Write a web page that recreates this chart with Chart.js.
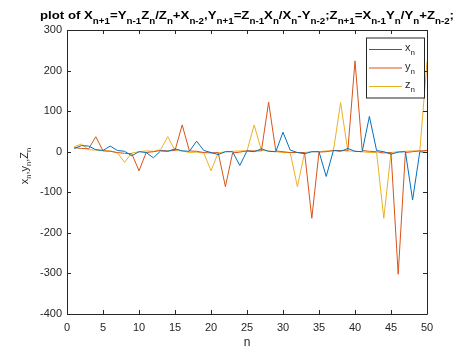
<!DOCTYPE html>
<html><head><meta charset="utf-8">
<script src="https://cdn.jsdelivr.net/npm/chart.js@4.4.1/dist/chart.umd.min.js"></script>
<style>html,body{margin:0;padding:0;background:#fff;}#wrap{width:476px;height:355px;}</style>
</head><body><div id="wrap"><canvas id="c" width="476" height="355"></canvas></div>
<script>
const nValues = Array.from({length: 50}, (_, i) => i + 1);
const xSeries = [8,15,14,5,3,14,3,1,-10,0,-2,-15,2,1,7,2,1,26,3,-2,-7,0,0,-34,2,0,7,1,0,48,4,-2,-5,0,0,-61,3,1,8,1,0,87,3,0,-6,-1,0,-119,0,-2];
const ySeries = [10,8,7,37,2,1,-2,-4,-5,-47,-2,0,3,2,3,66,2,1,-2,-3,-2,-86,-3,-1,2,2,2,122,2,0,-2,-2,-2,-164,-1,0,3,3,2,224,3,1,0,-3,-2,-302,-2,0,2,3];
const zSeries = [12,19,5,4,3,2,-3,-26,-3,0,2,1,5,37,3,2,-2,-1,-3,-47,-3,0,1,2,2,66,3,2,0,-2,-2,-86,-2,0,0,2,2,121,2,1,0,-2,-2,-164,-2,0,1,2,2,222];
const seriesNames = ['x','y','z'];
const seriesColors = ['#0072BD','#D95319','#EDB120'];
const xTicks = [0,5,10,15,20,25,30,35,40,45,50];
const yTicks = [-400,-300,-200,-100,0,100,200,300];
const titleParts = [['plot of X',0],['n+1',1],['=Y',0],['n-1',1],['Z',0],['n',1],['/Z',0],['n',1],['+X',0],['n-2',1],[',Y',0],['n+1',1],['=Z',0],['n-1',1],['X',0],['n',1],['/X',0],['n',1],['-Y',0],['n-2',1],[';Z',0],['n+1',1],['=X',0],['n-1',1],['Y',0],['n',1],['/Y',0],['n',1],['+Z',0],['n-2',1],[';',0]];
const yLabelParts = [['x',0],['n',1],[',y',0],['n',1],[',Z',0],['n',1]];
const xLabel = 'n';

const FONT = '"Liberation Sans", Arial, Helvetica, sans-serif';
const AX = '#262626';

function measureParts(ctx, parts, mainFont, subFont) {
  let w = 0;
  parts.forEach(p => { ctx.font = p[1] ? subFont : mainFont; w += ctx.measureText(p[0]).width; });
  return w;
}
function drawParts(ctx, parts, x, y, mainFont, subFont, subDy) {
  let cx = x;
  ctx.textBaseline = 'alphabetic';
  ctx.textAlign = 'left';
  parts.forEach(p => {
    ctx.font = p[1] ? subFont : mainFont;
    ctx.fillText(p[0], cx, y + (p[1] ? subDy : 0));
    cx += ctx.measureText(p[0]).width;
  });
}

const deco = {
  id: 'deco',
  afterDraw(chart) {
    const ctx = chart.ctx, a = chart.chartArea;
    const xs = chart.scales.x, ys = chart.scales.y;
    ctx.save();
    ctx.strokeStyle = AX; ctx.lineWidth = 1;
    ctx.beginPath();
    ctx.rect(Math.round(a.left) + 0.5, Math.round(a.top) + 0.5, Math.round(a.right - a.left), Math.round(a.bottom - a.top));
    ctx.stroke();
    const tl = 4;
    ctx.beginPath();
    xTicks.forEach(v => {
      const px = Math.round(xs.getPixelForValue(v)) + 0.5;
      ctx.moveTo(px, a.bottom); ctx.lineTo(px, a.bottom - tl);
      ctx.moveTo(px, a.top); ctx.lineTo(px, a.top + tl);
    });
    yTicks.forEach(v => {
      const py = Math.round(ys.getPixelForValue(v)) + 0.5;
      ctx.moveTo(a.left, py); ctx.lineTo(a.left + tl, py);
      ctx.moveTo(a.right, py); ctx.lineTo(a.right - tl, py);
    });
    ctx.stroke();
    // title (stretched horizontally to the reference width)
    ctx.fillStyle = '#000';
    const tMain = 'bold 11.5px ' + FONT, tSub = 'bold 8.5px ' + FONT;
    const tw = measureParts(ctx, titleParts, tMain, tSub);
    const targetW = 414;
    ctx.save();
    ctx.translate(40, 18.5);
    ctx.scale(targetW / tw, 1);
    drawParts(ctx, titleParts, 0, 0, tMain, tSub, 5);
    ctx.restore();
    // x label
    ctx.fillStyle = AX;
    ctx.font = '12px ' + FONT; ctx.textAlign = 'center'; ctx.textBaseline = 'alphabetic';
    ctx.fillText(xLabel, (a.left + a.right) / 2, 346);
    // y label
    const yMain = '11px ' + FONT, ySub = '7.5px ' + FONT;
    const yw = measureParts(ctx, yLabelParts, yMain, ySub);
    ctx.save();
    ctx.translate(27.5, 166);
    ctx.rotate(-Math.PI / 2);
    drawParts(ctx, yLabelParts, -yw / 2, 0, yMain, ySub, 3);
    ctx.restore();
    // legend
    const lx = 366, ly = 37.5, lw = 58, lh = 60;
    ctx.fillStyle = '#fff';
    ctx.fillRect(lx, ly, lw, lh);
    ctx.strokeStyle = AX;
    ctx.strokeRect(lx + 0.5, ly + 0.5, lw, lh);
    const rows = [49, 67.5, 86];
    seriesNames.forEach((nm, i) => {
      ctx.strokeStyle = seriesColors[i]; ctx.lineWidth = 1;
      ctx.beginPath(); ctx.moveTo(369, rows[i] + 0.5); ctx.lineTo(402, rows[i] + 0.5); ctx.stroke();
      ctx.fillStyle = AX;
      drawParts(ctx, [[nm,0],['n',1]], 405, rows[i] + 2, '11px ' + FONT, '8px ' + FONT, 4);
    });
    ctx.restore();
  }
};

const mk = (arr) => nValues.map((n, i) => ({x: n, y: arr[i]}));
const allSeries = [xSeries, ySeries, zSeries];

new Chart(document.getElementById('c'), {
  type: 'line',
  data: {
    datasets: allSeries.map((s, i) => ({
      label: seriesNames[i] + 'n', data: mk(s), borderColor: seriesColors[i], backgroundColor: seriesColors[i],
      borderWidth: 1, pointRadius: 0, tension: 0, fill: false
    }))
  },
  options: {
    responsive: false, animation: false, devicePixelRatio: 1,
    layout: {padding: {left: 0, right: 49, top: 30, bottom: 0}},
    plugins: {legend: {display: false}, title: {display: false}, tooltip: {enabled: false}},
    scales: {
      x: {
        type: 'linear', min: 0, max: 50,
        afterBuildTicks: (s) => { s.ticks = xTicks.map(v => ({value: v})); },
        afterFit: (s) => { s.height = 41; },
        grid: {display: false, drawTicks: false},
        border: {display: false},
        ticks: {color: AX, font: {family: FONT, size: 11}, padding: 7, maxRotation: 0, autoSkip: false}
      },
      y: {
        type: 'linear', min: -400, max: 300,
        afterBuildTicks: (s) => { s.ticks = yTicks.map(v => ({value: v})); },
        afterFit: (s) => { s.width = 67; },
        grid: {display: false, drawTicks: false},
        border: {display: false},
        ticks: {color: AX, font: {family: FONT, size: 11}, padding: 5, autoSkip: false}
      }
    }
  },
  plugins: [deco]
});
</script></body></html>
